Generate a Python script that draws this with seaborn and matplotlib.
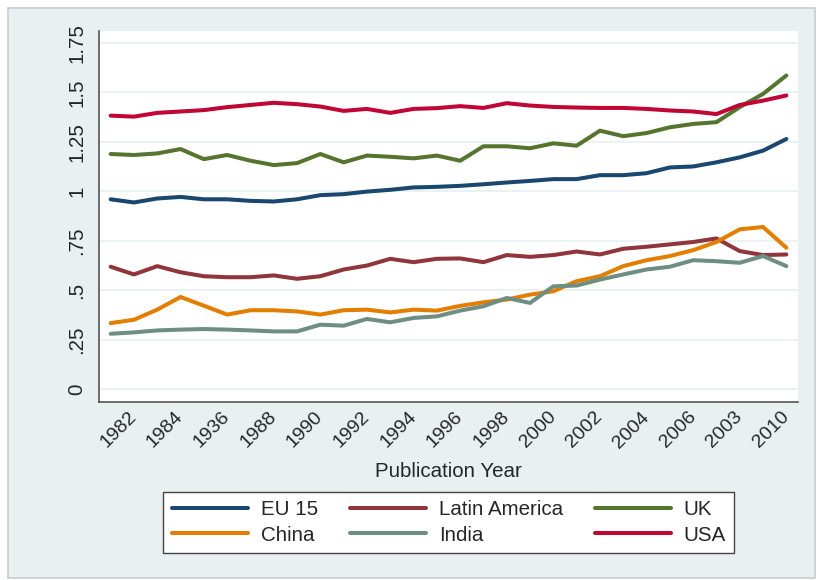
import pandas as pd
import numpy as np
import matplotlib.pyplot as plt
import seaborn as sns
from matplotlib.patches import Rectangle

# Series (yearly, 1981-2010)
years = list(range(1981, 2011))
eu15 = [0.959, 0.943, 0.963, 0.971, 0.959, 0.959, 0.951, 0.948, 0.959, 0.980,
        0.985, 0.998, 1.007, 1.019, 1.022, 1.027, 1.035, 1.044, 1.052, 1.061,
        1.061, 1.081, 1.081, 1.091, 1.120, 1.125, 1.146, 1.171, 1.205, 1.264]
latin_america = [0.618, 0.579, 0.621, 0.590, 0.570, 0.565, 0.565, 0.574, 0.557, 0.570,
                 0.604, 0.624, 0.658, 0.641, 0.658, 0.660, 0.641, 0.677, 0.668, 0.677,
                 0.695, 0.680, 0.709, 0.719, 0.731, 0.743, 0.761, 0.697, 0.677, 0.680]
uk = [1.188, 1.183, 1.191, 1.213, 1.162, 1.183, 1.154, 1.132, 1.142, 1.188,
      1.146, 1.180, 1.174, 1.166, 1.180, 1.154, 1.227, 1.227, 1.217, 1.242,
      1.230, 1.306, 1.278, 1.294, 1.323, 1.340, 1.349, 1.425, 1.492, 1.585]
china = [0.333, 0.350, 0.401, 0.465, 0.421, 0.376, 0.398, 0.398, 0.392, 0.376,
         0.398, 0.401, 0.387, 0.401, 0.396, 0.420, 0.438, 0.452, 0.477, 0.494,
         0.545, 0.570, 0.621, 0.651, 0.672, 0.702, 0.743, 0.807, 0.819, 0.714]
india = [0.279, 0.286, 0.296, 0.300, 0.303, 0.300, 0.296, 0.291, 0.291, 0.325,
         0.320, 0.354, 0.337, 0.359, 0.367, 0.396, 0.418, 0.460, 0.435, 0.519,
         0.523, 0.553, 0.579, 0.604, 0.618, 0.651, 0.646, 0.638, 0.672, 0.621]
usa = [1.382, 1.377, 1.396, 1.403, 1.410, 1.425, 1.436, 1.447, 1.440, 1.428,
       1.406, 1.416, 1.396, 1.416, 1.420, 1.430, 1.421, 1.445, 1.433, 1.426,
       1.423, 1.421, 1.421, 1.416, 1.408, 1.403, 1.390, 1.436, 1.458, 1.484]

series_names = ['EU 15', 'Latin America', 'UK', 'China', 'India', 'USA']
series_colors = ['#1a476f', '#90353b', '#55752f', '#e37e00', '#6e8e84', '#c10534']

x_ticks = list(range(1982, 2011, 2))
x_tick_labels = ['1982', '1984', '1936', '1988', '1990', '1992', '1994', '1996',
                 '1998', '2000', '2002', '2004', '2006', '2003', '2010']
y_ticks = [0, 0.25, 0.5, 0.75, 1, 1.25, 1.5, 1.75]
y_tick_labels = ['0', '.25', '.5', '.75', '1', '1.25', '1.5', '1.75']

# long format for seaborn
frames = []
for name, vals in zip(series_names, [eu15, latin_america, uk, china, india, usa]):
    frames.append(pd.DataFrame({'year': years, 'value': vals, 'series': name}))
df = pd.concat(frames, ignore_index=True)

sns.set_style("white")
plt.rcParams['font.family'] = ['Liberation Sans', 'DejaVu Sans']

bg = '#e8f0f2'
fig = plt.figure(figsize=(8.19, 5.8), dpi=100)
fig.patch.set_facecolor('white')
# outer graph region with a thin frame (drawn behind the axes)
fig.patches.append(Rectangle((8 / 819, 1 - 578 / 580), 807 / 819, 570 / 580,
                             transform=fig.transFigure, facecolor=bg,
                             edgecolor='#c8cccd', linewidth=1.2, zorder=-5))

ax = fig.add_axes([99 / 819, 1 - 402 / 580, 699 / 819, 371 / 580])
ax.set_facecolor('white')

sns.lineplot(data=df, x='year', y='value', hue='series', hue_order=series_names,
             palette=series_colors, linewidth=2.9, ax=ax, legend=False)

ax.set_xlim(1980.5, 2010.5)
ax.set_ylim(-0.066, 1.81)
ax.set_xticks(x_ticks)
ax.set_xticklabels(x_tick_labels, rotation=45, ha='right', va='center',
                   rotation_mode='anchor', fontsize=14)
ax.set_yticks(y_ticks)
ax.set_yticklabels(y_tick_labels, rotation=90, va='center', fontsize=14.8)
ax.tick_params(axis='both', direction='out', length=5, width=1, color='#555555', pad=4)
ax.grid(axis='y', color='#e8f0f2', linewidth=1.2)
ax.set_axisbelow(True)

for side in ['top', 'right']:
    ax.spines[side].set_visible(False)
for side in ['left', 'bottom']:
    ax.spines[side].set_color('#555555')
    ax.spines[side].set_linewidth(1.2)

ax.set_xlabel('Publication Year', fontsize=14.8, labelpad=8)
ax.set_ylabel('')

# legend: 3 columns filled row by row in the reference
handles = [plt.Line2D([], [], color=c, linewidth=2.9) for c in series_colors]
order = [0, 3, 1, 4, 2, 5]
leg = fig.legend([handles[i] for i in order], [series_names[i] for i in order],
                 ncol=3, loc='center', bbox_to_anchor=(0.548, 0.0991),
                 fontsize=14.8, frameon=True, fancybox=False, framealpha=1,
                 handlelength=3.7, handletextpad=0.63, columnspacing=1.55,
                 labelspacing=0.3, borderpad=0.4)
leg.get_frame().set_edgecolor('#444444')
leg.get_frame().set_linewidth(1.0)
leg.get_frame().set_facecolor('white')

plt.savefig('out.png', dpi=100)
plt.close()
